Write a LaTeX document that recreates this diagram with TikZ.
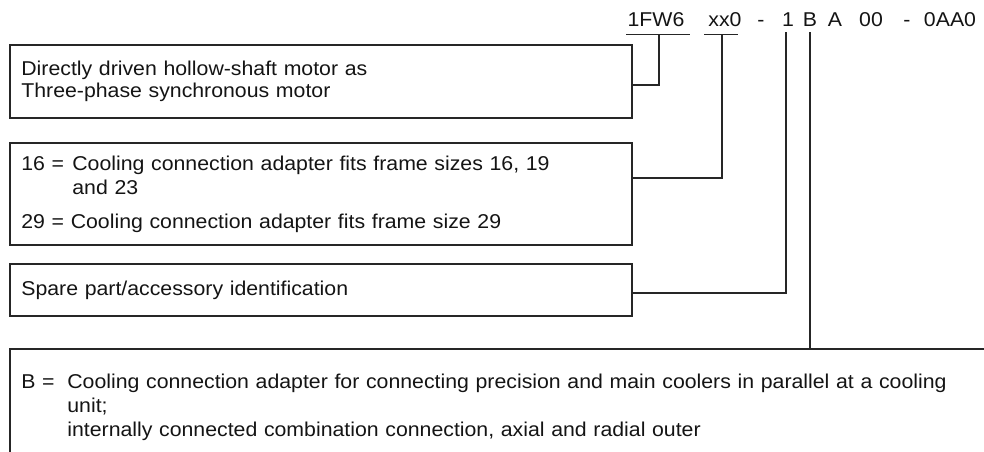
\documentclass[tikz,border=0pt]{standalone}
\usepackage{fontspec}
\setmainfont[FakeStretch=1.064]{Liberation Sans}
\usetikzlibrary{positioning}

\begin{document}
\begin{tikzpicture}[
  x=0.75pt, y=-0.75pt,
  font=\fontsize{15}{18}\selectfont,
  panel/.style={
    draw=black!85,
    line width=1.35pt,
    anchor=north west,
    align=left,
    inner xsep=8.6pt,
    inner ysep=0pt,
    text=black!92
  },
  code/.style={anchor=base, inner sep=0pt, text=black!92},
  link/.style={draw=black!85, line width=1.35pt}
]
\useasboundingbox (0,0) rectangle (984,452);
\clip (0,0) rectangle (984,452);

% order code
\node[code] (prefix) at (656,27) {1FW6};
\node[code] (frame) at (725,27) {xx0};
\node[code] (dasha) at (761,27) {-};
\node[code] (spare1) at (788,27) {1};
\node[code] (adapter) at (810,27) {B};
\node[code] (codea) at (835,27) {A};
\node[code] (codezz) at (871,27) {00};
\node[code] (dashb) at (907,27) {-};
\node[code] (tail) at (950,27) {0AA0};

% explanation boxes
\node[panel, text width=449.3pt, minimum height=54.75pt] (motor) at (9,44)
  {Directly driven hollow-shaft motor as\\[-2pt]Three-phase synchronous motor};

\node[panel, text width=449.3pt, minimum height=76.5pt] (cool) at (9,142)
  {\makebox[38.25pt][l]{16 =}Cooling connection adapter fits frame sizes 16, 19\\
   \hspace*{38.25pt}and 23\\[7.5pt]
   29 = Cooling connection adapter fits frame size 29};

\node[panel, text width=449.3pt, minimum height=39pt] (spare) at (9,263)
  {Spare part/accessory identification};

\node[panel, text width=740pt, inner ysep=19pt] (plate) at (9,348)
  {\makebox[34.5pt][l]{B =}Cooling connection adapter for connecting precision and main coolers in parallel at a cooling\\
   \hspace*{34.5pt}unit;\\
   \hspace*{34.5pt}internally connected combination connection, axial and radial outer};

\draw[link] ([xshift=-1pt,yshift=-5.25pt]prefix.south west) -- ([xshift=4pt,yshift=-5.25pt]prefix.south east);
\draw[link] ([xshift=-3pt,yshift=-5.25pt]frame.south west) -- ([xshift=-3pt,yshift=-5.25pt]frame.south east);

\draw[link] ([xshift=2pt,yshift=-5.25pt]prefix.south) |- ([yshift=-2.6pt]motor.east);
\draw[link] ([xshift=-2.5pt,yshift=-5.25pt]frame.south) |- ([yshift=12pt]cool.east);
\draw[link] ([xshift=-1.5pt,yshift=-3.75pt]spare1.south) |- ([yshift=-2.25pt]spare.east);
\draw[link] ([yshift=-3.75pt]adapter.south) -- (adapter.south |- plate.north);

\end{tikzpicture}
\end{document}
